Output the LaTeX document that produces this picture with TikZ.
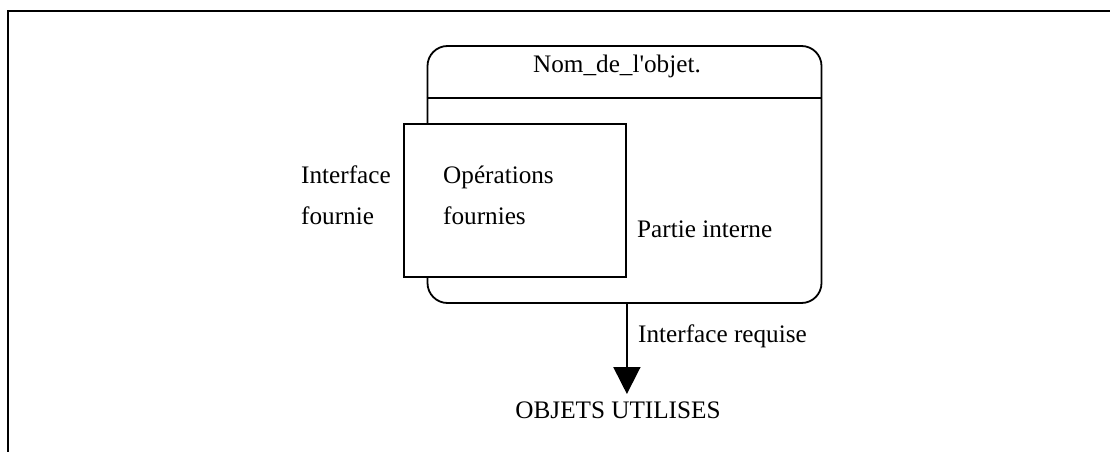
\documentclass[tikz,border=0pt]{standalone}
\usepackage{fontspec}
\setmainfont{Liberation Serif}
\usetikzlibrary{arrows.meta}
\begin{document}
\begin{tikzpicture}[x=1pt,y=-1pt,
  every node/.style={font=\fontsize{25.2}{41}\selectfont, inner sep=0pt},
  line/.style={line width=1.8pt, black},
  objbox/.style={line, draw, rounded corners=20pt, minimum width=394pt, minimum height=257pt},
  opsbox/.style={line, draw, fill=white, minimum width=222pt, minimum height=153pt},
  lbl/.style={anchor=base west, align=left}
]
\useasboundingbox (0,0) rectangle (1110,452);
% outer frame (top and left edges visible)
\coordinate (ftr) at (1110,11);
\coordinate (ftl) at (8,11);
\coordinate (fbl) at (8,452);
\draw[line, line width=2.2pt] (ftr) -- (ftl) -- (fbl);
% object box
\node[objbox] (obj) at (624.5,174.5) {};
\coordinate (hl) at (0,98);
\draw[line] (obj.west |- hl) -- (obj.east |- hl);
\node[anchor=base] (name) at (617,73) {Nom\_de\_l\textquotesingle objet.};
% operations box
\node[opsbox] (ops) at (515,200.5) {};
\node[lbl] (opst) at (443,224) {Opérations\\fournies};
\node[lbl] (ifo) at (301,224) {Interface\\fournie};
\node[lbl] (pint) at (637,237) {Partie interne};
% required interface arrow
\node[anchor=base] (objs) at (618,418) {OBJETS UTILISES};
\coordinate (astart) at (ops.east |- obj.south);
\coordinate (aend) at (ops.east |- 0,394);
\draw[line, -{Triangle[width=27pt,length=27pt]}, shorten >=0pt] (astart) -- (aend);
\node[lbl] (ireq) at (638,342) {Interface requise};
\end{tikzpicture}
\end{document}
